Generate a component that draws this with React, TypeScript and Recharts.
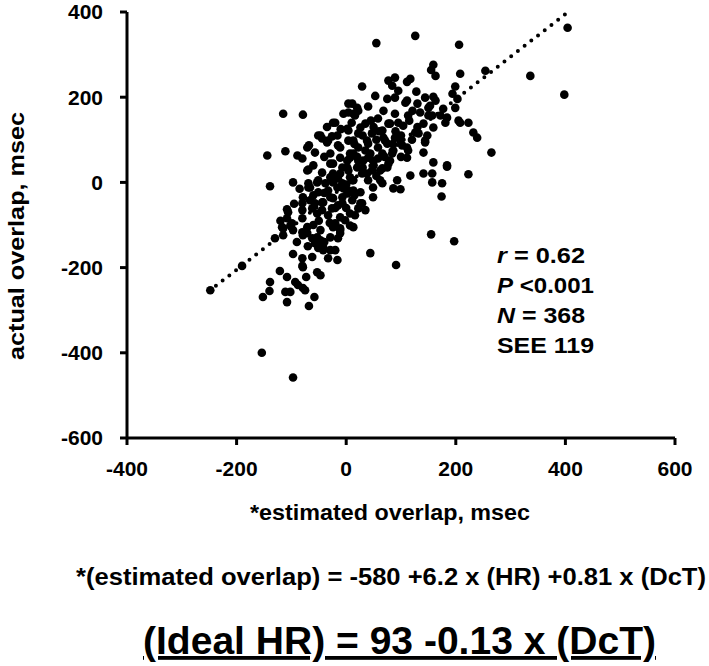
import { ScatterChart, Scatter, XAxis, YAxis, ReferenceLine } from 'recharts'

const outlierPts: Array<[number, number]> = [
  [-115, 161], [-79, 159], [-144, 63], [-111, 73], [-139, -9], [-97, 0], [55, 327], [126, 344],
  [206, 323], [254, 262], [336, 250], [404, 363], [398, 206], [265, 70], [223, 19], [184, 37],
  [174, -33], [155, -122], [197, -138], [44, -166], [91, -194], [-154, -400], [-97, -458],
  [-248, -253], [-190, -196],
]

const upperPts: Array<[number, number]> = [
  [155, 264], [159, 276], [163, 250], [208, 255], [29, 225], [77, 239], [89, 246], [84, 227],
  [111, 236], [117, 243], [95, 215], [53, 203], [75, 196], [89, 199], [128, 213], [144, 199],
  [159, 201], [199, 225], [194, 208], [203, 196], [11, 185], [40, 178], [22, 168], [68, 168],
  [108, 187], [130, 185], [153, 180], [163, 192], [199, 175], [177, 173], [4, 164], [16, 157],
  [89, 161], [113, 157], [135, 164], [150, 157], [58, 150], [-5, 161], [20, 175], [121, 168],
  [172, 157], [184, 152], [205, 145], [223, 140], [232, 117], [239, 105], [4, 185], [13, 161],
  [111, 192], [150, 175], [157, 157],
]

const coreLeftPts: Array<[number, number]> = [
  [-24, 140], [2, 126], [-47, 110], [-33, 98], [-16, 110], [13, 98], [-71, 82], [-57, 70],
  [-29, 68], [-11, 82], [7, 58], [-24, 44], [2, 35], [-71, 28], [-44, 23], [-29, 12], [-11, 21],
  [7, 12], [-53, 0], [-38, -2], [-24, 0], [-5, -14], [13, -19], [-69, -12], [-60, -30],
  [-44, -47], [-24, -37], [-7, -49], [11, -42], [-80, -49], [-62, -61], [-106, -70], [-108, -84],
  [-80, -84], [-53, -73], [-33, -77], [-11, -82], [7, -73], [22, -61], [-115, -108], [-97, -112],
  [-71, -105], [-47, -112], [-24, -105], [-11, -119], [13, -105], [-130, -131], [-79, -124],
  [-53, -129], [-29, -129], [-51, 110], [-44, 103], [-26, 108], [-20, 140], [-35, 94], [-15, 87],
  [-29, 44], [-11, 58], [-69, 30], [-24, 21], [-69, -2], [-66, -12], [-51, 5], [-15, 9],
  [-51, -23], [-33, -19], [-16, -12], [-79, -35], [-66, -42], [-57, -49], [-42, -47], [-29, -35],
  [-108, -63], [-80, -65], [-44, -65], [-26, -61], [-15, -54], [-7, -35], [-7, 35], [-7, -2],
  [-80, 56], [-89, 63], [-68, 87], [-40, 60], [-60, 40], [-35, 130], [-10, 125], [-50, -90],
  [-30, -95], [-60, -100], [-90, -140], [-70, -150], [-40, -140], [-20, -60], [0, -60],
  [-40, -25], [-85, -15], [-95, -50], [-120, -90], [0, -5],
]

const coreRightPts: Array<[number, number]> = [
  [35, 138], [4, 122], [77, 138], [104, 133], [126, 117], [144, 98], [159, 129], [181, 140],
  [208, 140], [141, 70], [159, 47], [184, 40], [111, 58], [117, 16], [141, 21], [157, 21],
  [157, 0], [175, -2], [93, 5], [86, -14], [99, -16], [66, -2], [49, -35], [29, -49], [35, -65],
  [4, -19], [11, 5], [29, 21], [47, 28], [66, 33], [77, 44], [58, 56], [40, 58], [22, 51],
  [7, 68], [22, 82], [40, 91], [58, 82], [71, 98], [89, 105], [102, 87], [113, 75], [84, 68],
  [47, 115], [66, 122], [22, 115], [4, 98], [4, 28], [141, 138], [132, 115], [148, 110],
  [144, 94], [99, 98], [111, 82], [80, 138], [66, 68], [49, 51], [62, 28], [75, 35], [26, 129],
  [38, 98], [68, 105], [75, 91], [86, 75], [80, 51], [13, 68], [2, 51], [31, 51], [44, 68],
  [20, 35], [38, 21], [62, 5], [49, -12], [13, 5], [2, -26], [26, -23], [26, -49], [-2, -89],
  [-11, -112], [10, 140], [30, 110], [50, 130], [15, 90], [55, 100], [35, 75], [20, 60],
  [60, 120], [45, 145], [90, 120], [100, 110], [120, 100], [130, 130], [95, 140], [115, 145],
  [85, 90], [70, 60], [50, 40], [30, 35], [100, 60], [15, -30], [40, 5], [55, 15],
]

const lowerPts: Array<[number, number]> = [
  [-117, -105], [-99, -96], [-80, -117], [-71, -119], [-62, -131], [-57, -143], [-51, -154],
  [-42, -152], [-47, -136], [-15, -131], [-11, -108], [-20, -96], [-115, -124], [-97, -168],
  [-80, -196], [-80, -178], [-62, -175], [-53, -211], [-47, -218], [-33, -178], [-16, -182],
  [-20, -159], [-29, -159], [-121, -208], [-152, -269], [-139, -234], [-140, -255], [-111, -257],
  [-102, -257], [-108, -281], [-108, -222], [-93, -234], [-88, -241], [-79, -248], [-68, -290],
  [-58, -269], [-73, -222], [-75, -253], [-79, -199], [-42, -159], [-102, -101], [7, -101],
  [16, -77],
]

// regression line end points
const fitLine = [
  { x: -250, y: -255 },
  { x: 400, y: 395 },
]

const xTicks = [-400, -200, 0, 200, 400, 600]
const yTicks = [-600, -400, -200, 0, 200, 400]

const stats = [
  { key: 'r', rest: ' = 0.62', len: 88 },
  { key: 'P', rest: ' <0.001', len: 97 },
  { key: 'N', rest: ' = 368', len: 88 },
  { key: '', rest: 'SEE 119', len: 97 },
]

const FONT = '"Liberation Sans", Arial, sans-serif'
const NARROW = '"Liberation Sans Narrow", "Arial Narrow", "Liberation Sans", Arial, sans-serif'

const points = [...outlierPts, ...upperPts, ...coreLeftPts, ...coreRightPts, ...lowerPts].map(
  ([x, y]) => ({ x, y })
)

const Dot = (props: any) => <circle cx={props.cx} cy={props.cy} r={4.3} fill="#000" />

const tickStyle = { fill: '#000', fontSize: 21, fontWeight: 700, fontFamily: FONT }

export default function App() {
  return (
    <div style={{ position: 'absolute', left: 0, top: 0, width: 709, height: 666, background: '#fff' }}>
      <ScatterChart width={709} height={666} margin={{ top: 12, right: 34, bottom: 198, left: 67 }}>
        <XAxis
          type="number"
          dataKey="x"
          domain={[-400, 600]}
          ticks={xTicks}
          interval={0}
          height={30}
          axisLine={{ stroke: '#000', strokeWidth: 3 }}
          tickLine={{ stroke: '#000', strokeWidth: 3 }}
          tickSize={7}
          tickMargin={16}
          tick={tickStyle}
        />
        <YAxis
          type="number"
          dataKey="y"
          domain={[-600, 400]}
          ticks={yTicks}
          interval={0}
          width={60}
          axisLine={{ stroke: '#000', strokeWidth: 3 }}
          tickLine={{ stroke: '#000', strokeWidth: 3 }}
          tickSize={7}
          tickMargin={17}
          tick={tickStyle}
        />
        <ReferenceLine
          segment={fitLine}
          stroke="#000"
          strokeWidth={4}
          strokeDasharray="0 8.5"
          strokeLinecap="round"
          ifOverflow="visible"
        />
        <Scatter data={points} fill="#000" shape={Dot} isAnimationActive={false} />
      </ScatterChart>
      <svg
        width={709}
        height={666}
        style={{ position: 'absolute', left: 0, top: 0, pointerEvents: 'none' }}
        fontFamily={FONT}
        fontWeight={700}
        fill="#000"
      >
        <text
          transform="translate(24,236) rotate(-90)"
          textAnchor="middle"
          fontSize={22}
          textLength={248}
          lengthAdjust="spacingAndGlyphs"
        >
          actual overlap, msec
        </text>
        {stats.map((s, i) => (
          <text key={s.rest} x={497} y={263 + i * 30} fontSize={22} textLength={s.len} lengthAdjust="spacingAndGlyphs">
            {s.key && <tspan fontStyle="italic">{s.key}</tspan>}
            {s.rest}
          </text>
        ))}
        <text x={390} y={520} textAnchor="middle" fontSize={22} textLength={280} lengthAdjust="spacingAndGlyphs">
          *estimated overlap, msec
        </text>
        <text x={76} y={585} fontSize={23} fontFamily={NARROW} textLength={630} lengthAdjust="spacingAndGlyphs">
          *(estimated overlap) = -580 +6.2 x (HR) +0.81 x (DcT)
        </text>
        <text
          x={143}
          y={654}
          fontSize={38}
          fontFamily={NARROW}
          textLength={513}
          lengthAdjust="spacingAndGlyphs"
          textDecoration="underline"
        >
          (Ideal HR) = 93 -0.13 x (DcT)
        </text>
      </svg>
    </div>
  )
}
